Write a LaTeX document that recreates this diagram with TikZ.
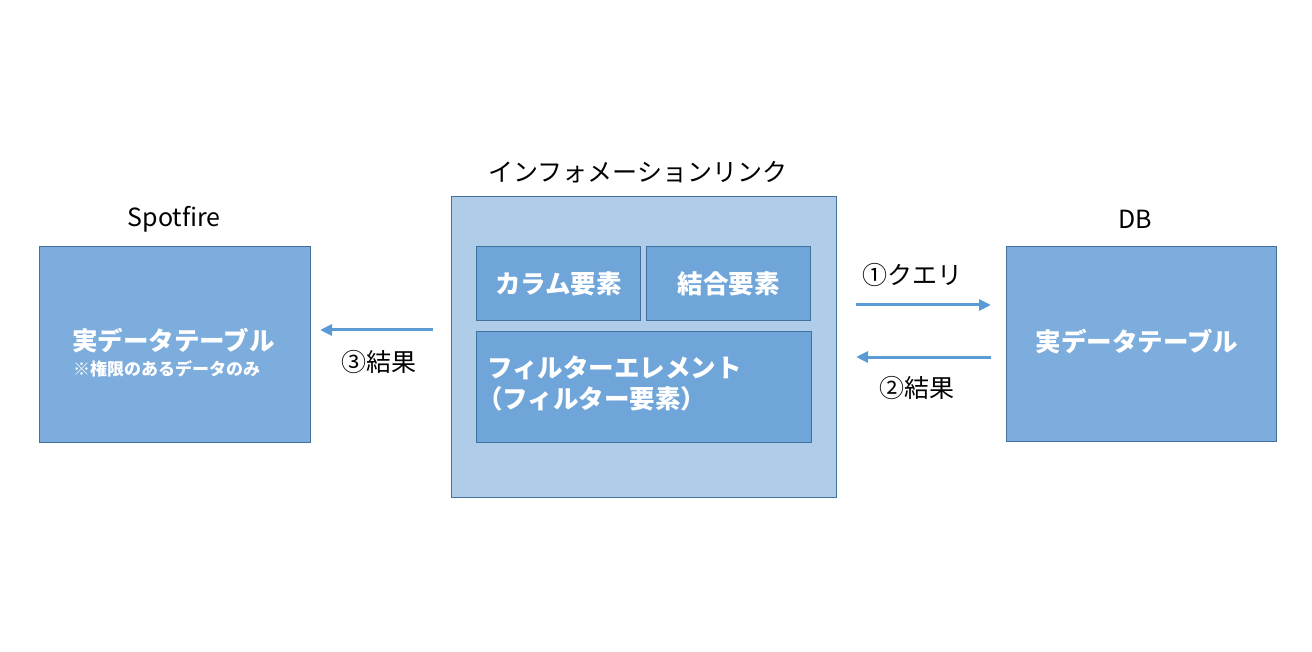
\documentclass[tikz,border=0pt]{standalone}
\usepackage{fontspec}
\setmainfont{Noto Sans CJK JP}
\usetikzlibrary{arrows.meta}
\definecolor{boxfill}{HTML}{7DADDD}
\definecolor{boxline}{HTML}{41719C}
\definecolor{outerfill}{HTML}{AFCCE9}
\definecolor{innerfill}{HTML}{6FA5D9}
\definecolor{arr}{HTML}{5B9BD5}
\tikzset{
  bigbox/.style={draw=boxline, line width=1pt, fill=boxfill},
  outerbox/.style={draw=boxline, line width=1pt, fill=outerfill},
  innerbox/.style={draw=boxline, line width=1pt, fill=innerfill},
  title/.style={font=\fontsize{25}{30}\selectfont, text=black, inner sep=0pt},
  boxtxt/.style={font=\fontsize{25.5}{30}\selectfont\bfseries, text=white, inner sep=0pt},
  lbl/.style={font=\fontsize{25}{30}\selectfont, text=black, inner sep=0pt},
  flow/.style={draw=arr, line width=3pt, -{Triangle[length=12pt,width=11pt]}},
}
\begin{document}
\begin{tikzpicture}[x=1pt,y=-1pt]
\useasboundingbox (0,0) rectangle (1312,652);
% boxes
\node[bigbox, minimum width=271pt, minimum height=196pt, anchor=north west] (spot) at (39,246) {};
\node[outerbox, minimum width=385pt, minimum height=301pt, anchor=north west] (info) at (451,196) {};
\node[innerbox, minimum width=164pt, minimum height=74pt, anchor=north west] (col) at (476,246) {};
\node[innerbox, minimum width=164pt, minimum height=74pt, anchor=north west] (join) at (646,246) {};
\node[innerbox, minimum width=335pt, minimum height=111pt, anchor=north west] (filt) at (476,331) {};
\node[bigbox, minimum width=270pt, minimum height=195pt, anchor=north west] (db) at (1006,246) {};
% titles
\node[title] (tspot) at (174,219) {Spotfire};
\node[title] (tinfo) at (638,172) {インフォメーションリンク};
\node[title] (tdb) at (1135,219) {DB};
% box texts
\node[boxtxt, anchor=west] (s1) at (72,341) {実データテーブル};
\node[font=\fontsize{17}{20}\selectfont\bfseries, text=white, inner sep=0pt, anchor=west] (s2) at (73,369) {※権限のあるデータのみ};
\node[boxtxt] (c1) at (col.center) {カラム要素};
\node[boxtxt] (j1) at (join.center) {結合要素};
\node[boxtxt, anchor=west] (f1) at (487,368) {フィルターエレメント};
\node[boxtxt, anchor=west] (f2) at (477,399) {（フィルター要素）};
\node[boxtxt] (d1) at (1137,342) {実データテーブル};
% arrows
\coordinate (a3s) at (433,330);
\coordinate (a3e) at (320,330);
\draw[flow] (a3s) -- (a3e);
\node[lbl] (l3) at (379,362) {③結果};
\coordinate (a1s) at (856,305);
\coordinate (a1e) at (991,305);
\draw[flow] (a1s) -- (a1e);
\node[lbl] (l1) at (912,275) {①クエリ};
\coordinate (a2s) at (991,357);
\coordinate (a2e) at (856,357);
\draw[flow] (a2s) -- (a2e);
\node[lbl] (l2) at (917,388) {②結果};
\end{tikzpicture}
\end{document}
